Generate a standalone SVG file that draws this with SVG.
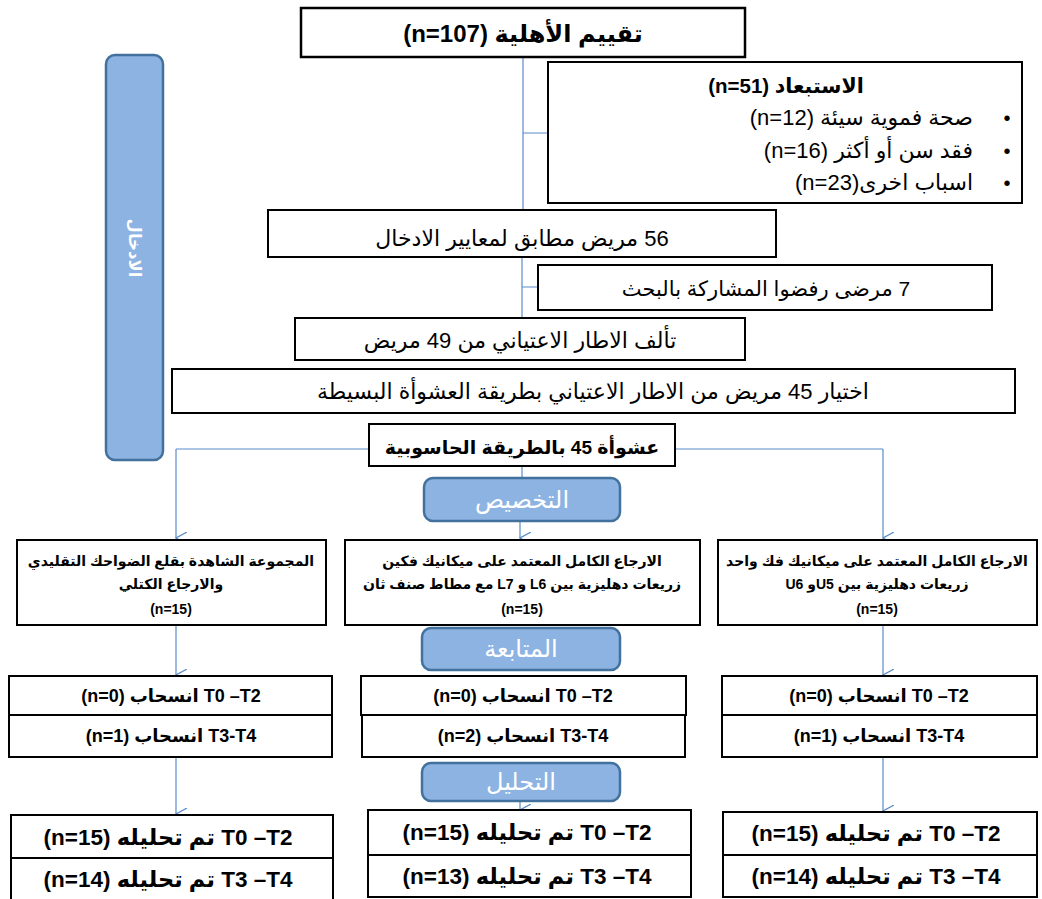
<svg xmlns="http://www.w3.org/2000/svg" width="1042" height="899" viewBox="0 0 1042 899">
<defs>
<style>
.box{fill:#fff;stroke:#000;stroke-width:2}
.lbl{fill:#8db3e2;stroke:#41719c;stroke-width:2.5}
.con{stroke:#5b8cc9;stroke-width:1.2;fill:none}
.t{font-family:"Liberation Sans","DejaVu Sans",sans-serif;fill:#000}
.b{font-weight:bold}
.w{fill:#fff}
</style>
<marker id="ar" viewBox="0 0 12 12" refX="6" refY="11" markerWidth="12" markerHeight="12" markerUnits="userSpaceOnUse" orient="auto-start-reverse">
<path d="M0,0 L6,11 L12,0" fill="none" stroke="#5b8cc9" stroke-width="1.2"/>
</marker>
</defs>
<rect width="1042" height="899" fill="#fff"/>

<g id="connectors">
<path class="con" d="M523,57 V210 M523,133 H548"/>
<path class="con" d="M522,257 V318 M522,287 H538"/>
<path class="con" d="M176,449 H369 M675,449 H883"/>
<path class="con" d="M176,449 V538" marker-end="url(#ar)"/>
<path class="con" d="M883,449 V538" marker-end="url(#ar)"/>
<path class="con" d="M522,466 V479"/>
<path class="con" d="M520,521 V538" marker-end="url(#ar)"/>
<path class="con" d="M176,625 V675" marker-end="url(#ar)"/>
<path class="con" d="M883,625 V675" marker-end="url(#ar)"/>
<path class="con" d="M176,757 V814" marker-end="url(#ar)"/>
<path class="con" d="M883,757 V811" marker-end="url(#ar)"/>
<path class="con" d="M520,801 V810" marker-end="url(#ar)"/>
</g>

<g id="inclusion-bar">
<rect class="lbl" x="106" y="55" width="57" height="405" rx="9"/>
<text class="t w b" font-size="16.5" text-anchor="middle" direction="rtl" transform="translate(135,248) rotate(90)" dy="6">الادخال</text>
</g>

<g id="eligibility">
<rect class="box" x="301" y="8" width="444" height="49" style="stroke-width:2.5"/>
<text class="t b" x="523" y="42" font-size="24" text-anchor="middle" direction="rtl">تقييم الأهلية (n=107)</text>
</g>

<g id="exclusion">
<rect class="box" x="548" y="62" width="474" height="141"/>
<text class="t b" x="786" y="93" font-size="20.5" text-anchor="middle" direction="rtl">الاستبعاد (n=51)</text>
<text class="t" x="1007" y="125" font-size="20" text-anchor="middle">•</text>
<text class="t" x="973" y="125" font-size="22" text-anchor="start" direction="rtl">صحة فموية سيئة (n=12)</text>
<text class="t" x="1007" y="158" font-size="20" text-anchor="middle">•</text>
<text class="t" x="973" y="158" font-size="22" text-anchor="start" direction="rtl">فقد سن أو أكثر (n=16)</text>
<text class="t" x="1007" y="190" font-size="20" text-anchor="middle">•</text>
<text class="t" x="973" y="190" font-size="22" text-anchor="start" direction="rtl">اسباب اخرى(n=23)</text>
</g>

<g id="eligible">
<rect class="box" x="268" y="210" width="508" height="47"/>
<text class="t" x="522" y="246" font-size="22" text-anchor="middle" direction="rtl">56 مريض مطابق لمعايير الادخال</text>
</g>

<g id="refused">
<rect class="box" x="538" y="265" width="454" height="45"/>
<text class="t" x="766" y="296" font-size="21" text-anchor="middle" direction="rtl">7 مرضى رفضوا المشاركة بالبحث</text>
</g>

<g id="frame">
<rect class="box" x="295" y="318" width="450" height="42"/>
<text class="t" x="520" y="348" font-size="22" text-anchor="middle" direction="rtl">تألف الاطار الاعتياني من 49 مريض</text>
</g>

<g id="selection">
<rect class="box" x="172" y="369" width="843" height="44"/>
<text class="t" x="593" y="399" font-size="22" text-anchor="middle" direction="rtl">اختيار 45 مريض من الاطار الاعتياني بطريقة العشوأة البسيطة</text>
</g>

<g id="randomization">
<rect class="box" x="369" y="424" width="306" height="42"/>
<text class="t b" x="522" y="454" font-size="19" text-anchor="middle" direction="rtl">عشوأة 45 بالطريقة الحاسوبية</text>
</g>

<g id="allocation-label">
<rect class="lbl" x="424" y="478" width="196" height="43" rx="9"/>
<text class="t w" x="522" y="508" font-size="24" text-anchor="middle" direction="rtl">التخصيص</text>
</g>

<g id="group-left">
<rect class="box" x="17" y="540" width="309" height="85"/>
<text class="t b" x="171" y="566" font-size="14" text-anchor="middle" direction="rtl">المجموعة الشاهدة بقلع الضواحك التقليدي</text>
<text class="t b" x="171" y="589" font-size="14" text-anchor="middle" direction="rtl">والارجاع الكتلي</text>
<text class="t b" x="171" y="614" font-size="14" text-anchor="middle" direction="rtl">(n=15)</text>
</g>

<g id="group-middle">
<rect class="box" x="345" y="540" width="355" height="85"/>
<text class="t b" x="522" y="566" font-size="14" text-anchor="middle" direction="rtl">الارجاع الكامل المعتمد على ميكانيك فكين</text>
<text class="t b" x="522" y="589" font-size="14" text-anchor="middle" direction="rtl">زريعات دهليزية بين L6 و L7 مع مطاط صنف ثان</text>
<text class="t b" x="522" y="614" font-size="14" text-anchor="middle" direction="rtl">(n=15)</text>
</g>

<g id="group-right">
<rect class="box" x="718" y="540" width="319" height="85"/>
<text class="t b" x="877" y="566" font-size="14" text-anchor="middle" direction="rtl">الارجاع الكامل المعتمد على ميكانيك فك واحد</text>
<text class="t b" x="877" y="589" font-size="14" text-anchor="middle" direction="rtl">زريعات دهليزية بين U5و U6</text>
<text class="t b" x="877" y="614" font-size="14" text-anchor="middle" direction="rtl">(n=15)</text>
</g>

<g id="followup-label">
<rect class="lbl" x="422" y="628" width="198" height="42" rx="9"/>
<text class="t w" x="521" y="657" font-size="24" text-anchor="middle" direction="rtl">المتابعة</text>
</g>

<g id="followup-left">
<rect class="box" x="9" y="676" width="323" height="39"/>
<rect class="box" x="9" y="715" width="323" height="42"/>
<text class="t b" x="171" y="702" font-size="18" text-anchor="middle" direction="rtl">T0 –T2 انسحاب (n=0)</text>
<text class="t b" x="171" y="742" font-size="18" text-anchor="middle" direction="rtl">T3-T4 انسحاب (n=1)</text>
</g>

<g id="followup-middle">
<rect class="box" x="361" y="676" width="325" height="39"/>
<rect class="box" x="362" y="715" width="323" height="42"/>
<text class="t b" x="523" y="702" font-size="18" text-anchor="middle" direction="rtl">T0 –T2 انسحاب (n=0)</text>
<text class="t b" x="523" y="742" font-size="18" text-anchor="middle" direction="rtl">T3-T4 انسحاب (n=2)</text>
</g>

<g id="followup-right">
<rect class="box" x="722" y="676" width="315" height="39"/>
<rect class="box" x="722" y="715" width="315" height="42"/>
<text class="t b" x="879" y="702" font-size="18" text-anchor="middle" direction="rtl">T0 –T2 انسحاب (n=0)</text>
<text class="t b" x="879" y="742" font-size="18" text-anchor="middle" direction="rtl">T3-T4  انسحاب (n=1)</text>
</g>

<g id="analysis-label">
<rect class="lbl" x="422" y="763" width="198" height="38" rx="9"/>
<text class="t w" x="521" y="790" font-size="24" text-anchor="middle" direction="rtl">التحليل</text>
</g>

<g id="analysis-left">
<rect class="box" x="11" y="815" width="322" height="43"/>
<rect class="box" x="11" y="858" width="322" height="45"/>
<text class="t b" x="168" y="845" font-size="22.5" text-anchor="middle" direction="rtl">T0 –T2 تم تحليله (n=15)</text>
<text class="t b" x="168" y="887" font-size="22.5" text-anchor="middle" direction="rtl">T3 –T4 تم تحليله (n=14)</text>
</g>

<g id="analysis-middle">
<rect class="box" x="368" y="810" width="323" height="45"/>
<rect class="box" x="368" y="855" width="323" height="42"/>
<text class="t b" x="527" y="840" font-size="22.5" text-anchor="middle" direction="rtl">T0 –T2 تم تحليله (n=15)</text>
<text class="t b" x="527" y="884" font-size="22.5" text-anchor="middle" direction="rtl">T3 –T4 تم تحليله (n=13)</text>
</g>

<g id="analysis-right">
<rect class="box" x="723" y="812" width="314" height="43"/>
<rect class="box" x="723" y="855" width="314" height="42"/>
<text class="t b" x="876" y="841" font-size="22.5" text-anchor="middle" direction="rtl">T0 –T2 تم تحليله (n=15)</text>
<text class="t b" x="876" y="884" font-size="22.5" text-anchor="middle" direction="rtl">T3 –T4 تم تحليله (n=14)</text>
</g>
</svg>
